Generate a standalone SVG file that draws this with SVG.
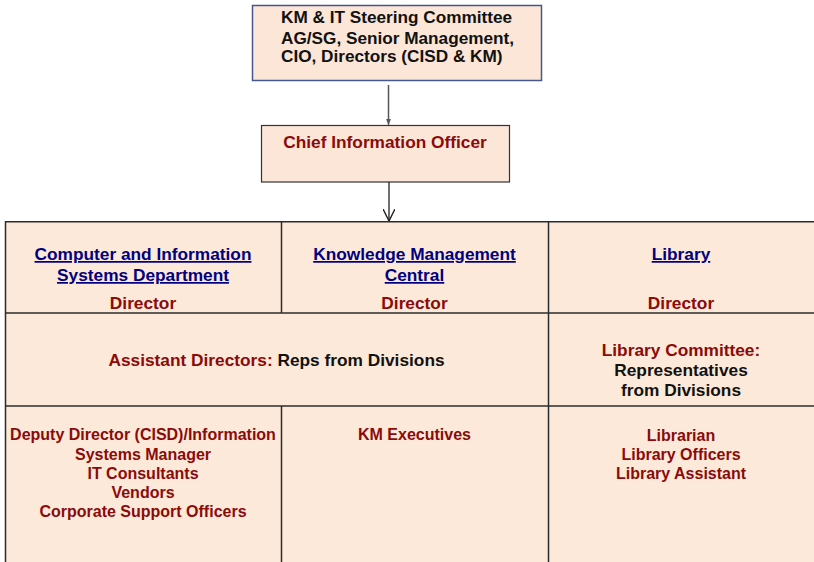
<svg xmlns="http://www.w3.org/2000/svg" width="814" height="562" viewBox="0 0 814 562">
<defs>
<marker id="tri" viewBox="0 0 10 10" refX="10" refY="5" markerWidth="6" markerHeight="6" markerUnits="userSpaceOnUse" orient="auto"><path d="M0,1 L10,5 L0,9 Z" fill="#555"/></marker>
<marker id="vee" viewBox="0 0 10 10" refX="10" refY="5" markerWidth="12" markerHeight="12" markerUnits="userSpaceOnUse" orient="auto"><path d="M0,0 L10,5 L0,10" fill="none" stroke="#222" stroke-width="1.2"/></marker>
<style>
text{font-family:"Liberation Sans",Arial,sans-serif;font-weight:bold;}
.blk{fill:#111;}
.red{fill:#8B0A0A;}
.lnk{fill:#00007F;text-decoration:underline;}
.c{text-anchor:middle;}
.f16{font-size:17.3px;}
.f15{font-size:16px;}
.f17{font-size:17.2px;}
.cell{fill:#FDE9D9;stroke:#2b2b2b;stroke-width:1.5;}
</style>
</defs>
<rect width="814" height="562" fill="#fff"/>
<g id="steering">
<rect x="252.5" y="5.5" width="289" height="75" fill="#FCE6D8" stroke="#45588A" stroke-width="1.5"/>
<text class="blk f17" x="281" y="23">KM &amp; IT Steering Committee</text>
<text class="blk f17" x="281" y="43.5">AG/SG, Senior Management,</text>
<text class="blk f17" x="281" y="61.5">CIO, Directors (CISD &amp; KM)</text>
</g>
<g id="cio">
<rect x="261.5" y="125.5" width="248" height="56.5" fill="#FCE6D8" stroke="#333" stroke-width="1.2"/>
<text class="red f16 c" x="385" y="147.5">Chief Information Officer</text>
</g>
<g id="connectors">
<line x1="388.5" y1="85" x2="388.5" y2="125" stroke="#555" stroke-width="1.5" marker-end="url(#tri)"/>
<line x1="389" y1="182" x2="389" y2="221" stroke="#222" stroke-width="1.3" marker-end="url(#vee)"/>
</g>
<g id="table">
<path class="cell" d="M5.5,570 V221.7 H820 V570 Z"/>
<line x1="5" y1="313" x2="814" y2="313" stroke="#2b2b2b" stroke-width="1.5"/>
<line x1="5" y1="406" x2="814" y2="406" stroke="#2b2b2b" stroke-width="1.5"/>
<line x1="281.5" y1="221.7" x2="281.5" y2="313" stroke="#2b2b2b" stroke-width="1.5"/>
<line x1="281.5" y1="406" x2="281.5" y2="562" stroke="#2b2b2b" stroke-width="1.5"/>
<line x1="548.5" y1="221.7" x2="548.5" y2="562" stroke="#2b2b2b" stroke-width="1.5"/>
</g>
<g id="cisd">
<text class="lnk f16 c" x="143" y="260">Computer and Information</text>
<text class="lnk f16 c" x="143" y="281">Systems Department</text>
<text class="red f16 c" x="143" y="308.5">Director</text>
</g>
<g id="kmc">
<text class="lnk f16 c" x="414.5" y="260">Knowledge Management</text>
<text class="lnk f16 c" x="414.5" y="281">Central</text>
<text class="red f16 c" x="414.5" y="308.5">Director</text>
</g>
<g id="library">
<text class="lnk f16 c" x="681" y="260">Library</text>
<text class="red f16 c" x="681" y="308.5">Director</text>
</g>
<g id="assistant-directors">
<text class="f16 c" x="276.5" y="365.5"><tspan class="red">Assistant Directors: </tspan><tspan class="blk">Reps from Divisions</tspan></text>
</g>
<g id="library-committee">
<text class="red f16 c" x="681" y="355.5">Library Committee:</text>
<text class="blk f16 c" x="681" y="376.3">Representatives</text>
<text class="blk f16 c" x="681" y="396">from Divisions</text>
</g>
<g id="cisd-staff">
<text class="red f15 c" x="143" y="440">Deputy Director (CISD)/Information</text>
<text class="red f15 c" x="143" y="459.5">Systems Manager</text>
<text class="red f15 c" x="143" y="478.5">IT Consultants</text>
<text class="red f15 c" x="143" y="498">Vendors</text>
<text class="red f15 c" x="143" y="517">Corporate Support Officers</text>
</g>
<g id="km-staff">
<text class="red f15 c" x="414.5" y="440">KM Executives</text>
</g>
<g id="library-staff">
<text class="red f15 c" x="681" y="440.5">Librarian</text>
<text class="red f15 c" x="681" y="459.5">Library Officers</text>
<text class="red f15 c" x="681" y="478.5">Library Assistant</text>
</g>
</svg>
